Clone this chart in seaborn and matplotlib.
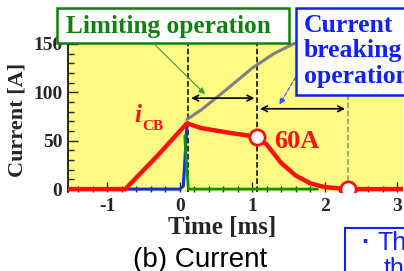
import numpy as np
import pandas as pd
import matplotlib
matplotlib.use("Agg")
import matplotlib.pyplot as plt
from matplotlib.patches import Rectangle, FancyArrowPatch
import seaborn as sns

# curve data (time in ms, current in A)
t_cb = [-1.55, -0.75, -0.3, 0.1, 0.3, 0.7, 1.07, 1.2, 1.4, 1.6, 1.8, 2.0, 2.32, 3.1]
i_cb = [0, 0, 35, 68, 63, 58, 54, 46, 27, 14, 6, 2, 0, 0]
t_blue = [-0.75, 0.0, 0.05, 0.08, 0.1]
i_blue = [0, 0, 3, 40, 66]
t_green = [0.07, 0.1, 0.12, 1.9]
i_green = [55, 20, 0, 0]
t_gray = [0.1, 0.3, 0.68, 1.0, 1.3, 1.62]
i_gray = [72, 82, 105, 125, 140, 152]
t_marks = [1.07, 2.32]
i_marks = [54, 0]
t_lines = [0.12, 1.07]
t_end = 2.32
xticks = [-1, 0, 1, 2, 3]
yticks = [0, 50, 100, 150]

sns.set_style("white")
plt.rcParams['font.family'] = ['Liberation Serif', 'DejaVu Serif']
plt.rcParams['axes.unicode_minus'] = False

W, H = 404, 271
fig = plt.figure(figsize=(W / 100, H / 100), dpi=100)


def fpos(x, y):
    return x / W, 1 - y / H


ax = fig.add_axes([68 / W, 1 - 192 / H, (403 - 68) / W, (192 - 42) / H])
ax.set_facecolor('#fffa84')
ax.set_xlim(-1.54, 3.08)
ax.set_ylim(-3, 152)

sns.lineplot(x=t_blue, y=i_blue, ax=ax, color='#1030e0', lw=2.2, sort=False, estimator=None, zorder=3)
sns.lineplot(x=t_green, y=i_green, ax=ax, color='#109010', lw=2, sort=False, estimator=None, zorder=3)
sns.lineplot(x=t_gray, y=i_gray, ax=ax, color='#808080', lw=2.2, sort=False, estimator=None, zorder=3)
sns.lineplot(x=t_cb, y=i_cb, ax=ax, color='#ff1010', lw=3.2, sort=False, estimator=None, zorder=4)
ax.plot(t_marks, i_marks, 'o', ms=11, mfc='white', mec='#ff1010', mew=2, zorder=5)

for t in t_lines:
    ax.axvline(t, color='black', ls='--', lw=1.1, zorder=2)
ax.plot([t_end, t_end], [0, 97], color='#909070', ls='--', lw=1.1, zorder=2)

ax.annotate('', xy=(t_lines[0], 94), xytext=(t_lines[1], 94),
            arrowprops=dict(arrowstyle='<->', color='black', lw=1.2), zorder=6)
ax.annotate('', xy=(t_lines[1], 83), xytext=(t_end, 83),
            arrowprops=dict(arrowstyle='<->', color='black', lw=1.2), zorder=6)

ax.set_xticks(xticks)
ax.set_yticks(yticks)
ax.set_xticks(np.arange(-1.4, 3.01, 0.2), minor=True)
ax.set_yticks(np.arange(0, 151, 10), minor=True)
ax.tick_params(which='both', direction='in', left=True, bottom=True, length=4, width=1)
ax.tick_params(which='major', length=7, labelsize=14, pad=4)
for lab in ax.get_xticklabels() + ax.get_yticklabels():
    lab.set_fontweight('bold')
ax.set_xlabel('Time [ms]', fontsize=18, fontweight='bold')
ax.set_ylabel('Current [A]', fontsize=16, fontweight='bold')
# label anchors in axes fractions (axes box is 335 x 150 px)
ax.xaxis.set_label_coords((222 - 68) / 335, -(216 - 192) / 150)
ax.yaxis.set_label_coords(-(68 - 28) / 335, (192 - 120) / 150)
for s in ['top', 'right', 'bottom']:
    ax.spines[s].set_visible(False)
ax.spines['left'].set_color('black')
ax.spines['left'].set_linewidth(1.2)

# i_CB and 60A labels
fig.text(*fpos(134, 122), 'i', color='#ff1010', fontsize=18, fontstyle='italic',
         fontweight='bold', ha='left', va='baseline')
fig.text(*fpos(142, 130), 'CB', color='#ff1010', fontsize=11, fontweight='bold',
         ha='left', va='baseline')
fig.text(*fpos(274, 142), '60A', color='#ff1010', fontsize=19, fontweight='bold',
         ha='left', va='center')

# text boxes on top of the plot
x0, y0 = fpos(57, 43)
fig.patches.append(Rectangle((x0, y0), 232 / W, 35 / H, transform=fig.transFigure,
                             facecolor='white', edgecolor='#108010', lw=1.8, zorder=10))
fig.text(*fpos(168, 26), 'Limiting operation', color='#108010', fontsize=18.3,
         fontweight='bold', ha='center', va='center', zorder=11)

x0, y0 = fpos(296, 95)
fig.patches.append(Rectangle((x0, y0), 120 / W, 87 / H, transform=fig.transFigure,
                             facecolor='white', edgecolor='#1020ff', lw=1.8, zorder=10))
fig.text(*fpos(304, 51), 'Current\nbreaking\noperation', color='#1020ff', fontsize=18.5,
         fontweight='bold', ha='left', va='center', linespacing=1.15, zorder=11)

x0, y0 = fpos(345, 290)
fig.patches.append(Rectangle((x0, y0), 80 / W, 62 / H, transform=fig.transFigure,
                             facecolor='white', edgecolor='#1020ff', lw=1.5, zorder=10))
fig.text(*fpos(361, 250), '·', color='#1020ff', fontsize=18, fontweight='bold',
         family=['Liberation Sans'], ha='left', va='baseline', zorder=11)
fig.text(*fpos(378, 250), 'Th', color='#1020ff', fontsize=18,
         family=['Liberation Sans'], ha='left', va='baseline', zorder=11)
fig.text(*fpos(384, 276), 'th', color='#1020ff', fontsize=18,
         family=['Liberation Sans'], ha='left', va='baseline', zorder=11)

fig.text(*fpos(200, 260), '(b) Current', color='black', fontsize=20,
         family=['Liberation Sans'], ha='center', va='center')

# pointer arrows from the boxes
fig.add_artist(FancyArrowPatch(fpos(153, 43), fpos(207, 96), transform=fig.transFigure,
                               arrowstyle='-|>', mutation_scale=9, color='#30a030', lw=0.8, zorder=9))
fig.add_artist(FancyArrowPatch(fpos(297, 75), fpos(278, 107), transform=fig.transFigure,
                               arrowstyle='-|>', mutation_scale=9, color='#3050ff', lw=0.8,
                               ls='--', zorder=9))

fig.savefig('out.png', dpi=100)
